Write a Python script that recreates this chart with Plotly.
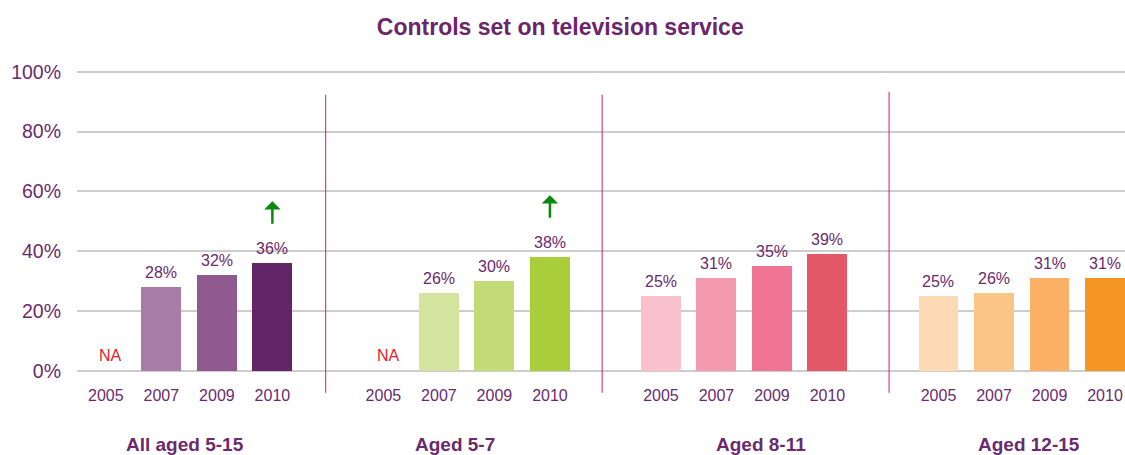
import plotly.graph_objects as go

# Survey results: share of parents with controls set on the television service
groups = ["All aged 5-15", "Aged 5-7", "Aged 8-11", "Aged 12-15"]
years = ["2005", "2007", "2009", "2010"]
all_5_15 = [None, 28, 32, 36]
aged_5_7 = [None, 26, 30, 38]
aged_8_11 = [25, 31, 35, 39]
aged_12_15 = [25, 26, 31, 31]
series = [all_5_15, aged_5_7, aged_8_11, aged_12_15]

# Groups showing a significant increase since the previous wave
increase_flags = [False, False, False, True], [False, False, False, True], [False] * 4, [False] * 4

palettes = [
    ["#A77DA8", "#A77DA8", "#8E5A8F", "#632567"],
    ["#D4E39D", "#D4E39D", "#C3DA77", "#A9CE3A"],
    ["#F8C1CC", "#F49AAF", "#F07494", "#E35769"],
    ["#FDDAB4", "#FCC588", "#FBB065", "#F59622"],
]

PURPLE = "#6B2A6E"
FONT = "Arial, Liberation Sans, sans-serif"
SLOTS = len(years) + 1  # one empty slot between groups

fig = go.Figure()
annotations = []
tickvals, ticktext = [], []

for g, (name, vals, cols) in enumerate(zip(groups, series, palettes)):
    xs = [g * SLOTS + i for i in range(len(years))]
    tickvals += xs
    ticktext += years
    fig.add_trace(go.Bar(
        x=xs, y=vals, marker=dict(color=cols, line=dict(width=0)),
        width=0.72, showlegend=False, hoverinfo="skip",
    ))
    for x, v, up in zip(xs, vals, increase_flags[g]):
        if v is None:
            annotations.append(dict(
                x=x, y=0, text="NA", showarrow=False, xshift=5, yshift=15,
                yanchor="middle", font=dict(family=FONT, size=16, color="#E2222B"),
            ))
            continue
        annotations.append(dict(
            x=x, y=v, text=f"{v}%", showarrow=False, yshift=15,
            yanchor="middle", font=dict(family=FONT, size=16, color=PURPLE),
        ))
        if up:
            annotations.append(dict(
                x=x, y=v, text="", showarrow=True, yshift=62, ax=0, ay=24,
                arrowhead=1, arrowsize=1.1, arrowwidth=2.5, arrowcolor="#0A8A0A",
            ))

# Group captions under the axis
for name, xp in zip(groups, [0.1026, 0.3607, 0.6527, 0.9084]):
    annotations.append(dict(
        x=xp, xref="paper", xanchor="center", y=-0.241, yref="paper",
        text=f"<b>{name}</b>", showarrow=False, yanchor="middle",
        font=dict(family=FONT, size=19, color=PURPLE),
    ))

# Dividers between the age groups
shapes = []
for xd, top in zip([3.96, 8.94, 14.11], [0.918, 0.918, 0.928]):
    shapes.append(dict(
        type="line", xref="x", yref="paper", x0=xd, x1=xd, y0=-0.069, y1=top,
        line=dict(color="#D81B60", width=1),
    ))

fig.update_layout(
    width=1125, height=455,
    margin=dict(l=77, r=0, t=70, b=83),
    paper_bgcolor="white", plot_bgcolor="white",
    bargap=0,
    title=dict(
        text="<b>Controls set on television service</b>",
        x=0.498, xanchor="center", y=1 - 27 / 455, yanchor="middle",
        font=dict(family=FONT, size=23, color="#6B2569"),
    ),
    xaxis=dict(
        range=[-0.52, 18.36], tickvals=tickvals, ticktext=ticktext,
        showgrid=False, zeroline=False, showline=False, ticks="",
        tickfont=dict(family=FONT, size=16, color=PURPLE),
        ticklabelstandoff=12, fixedrange=True,
    ),
    yaxis=dict(
        range=[-0.4, 100.6], tickvals=[0, 20, 40, 60, 80, 100],
        ticktext=["0%", "20%", "40%", "60%", "80%", "100%"],
        showgrid=True, gridcolor="#CDCDCD", gridwidth=2,
        zeroline=False, showline=False, ticks="",
        tickfont=dict(family=FONT, size=19.5, color=PURPLE),
        ticklabelstandoff=15, fixedrange=True,
    ),
    annotations=annotations,
    shapes=shapes,
)

fig.write_html("out.html")
